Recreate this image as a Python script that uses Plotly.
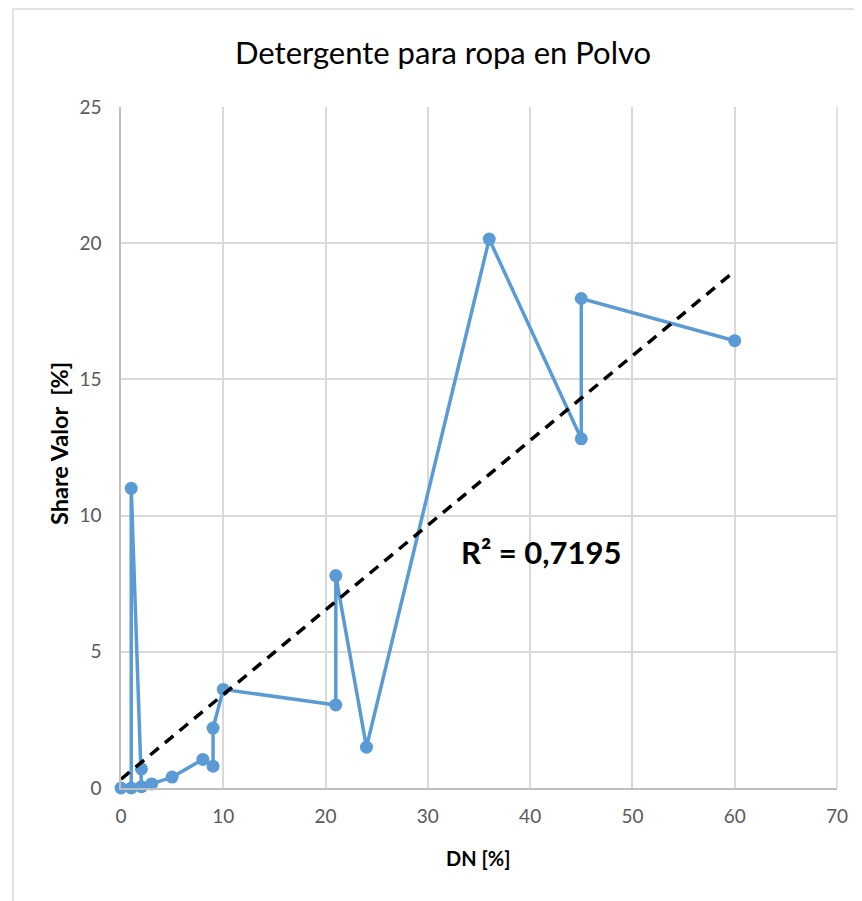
import numpy as np
import plotly.graph_objects as go

# Data (in line order)
dn = [0, 1, 1, 2, 2, 3, 5, 8, 9, 9, 10, 21, 21, 24, 36, 45, 45, 60]
share = [0, 0, 11.0, 0.7, 0.05, 0.15, 0.4, 1.05, 0.8, 2.2, 3.62, 3.05, 7.8, 1.5, 20.15, 12.82, 17.97, 16.42]

title_text = "Detergente para ropa en Polvo"
x_title = "DN [%]"
y_title = "Share Valor  [%]"
r2_text = "R² = 0,7195"

x_ticks = [0, 10, 20, 30, 40, 50, 60, 70]
y_ticks = [0, 5, 10, 15, 20, 25]

# linear trendline computed from data
slope, intercept = np.polyfit(dn, share, 1)
tx = np.array([min(dn), max(dn)])
ty = slope * tx + intercept

FONT = "Lato"
fig = go.Figure()
fig.add_trace(go.Scatter(
    x=dn, y=share, mode="lines+markers",
    line=dict(color="#5B9BD5", width=3.5),
    marker=dict(color="#5B9BD5", size=13),
    showlegend=False, hoverinfo="skip", cliponaxis=False,
))
fig.add_trace(go.Scatter(
    x=tx, y=ty, mode="lines",
    line=dict(color="black", width=3.5, dash="11px,8px"),
    showlegend=False, hoverinfo="skip",
))

OFF = 8  # page body offset
W, H = 862, 901
# target screen positions of plot area
SL, SR, ST, SB = 121, 837, 107, 788
L, T = SL - OFF, ST - OFF
R, B = W - (SR - OFF), H - (SB - OFF)
pw, ph = W - L - R, H - T - B

def px_x(p):
    return (p - OFF - L) / pw

def px_y(p):
    return (H - B - (p - OFF)) / ph

fig.update_layout(
    width=W, height=H,
    margin=dict(l=L, r=R, t=T, b=B),
    paper_bgcolor="white", plot_bgcolor="white",
    font=dict(family=FONT, color="#595959", size=19),
    xaxis=dict(
        range=[0, 70], tickvals=x_ticks, showgrid=True, gridcolor="#d9d9d9", gridwidth=1.5,
        showline=True, linecolor="#bfbfbf", linewidth=1.5, zeroline=False,
        ticks="", tickfont=dict(size=19, color="#595959"), ticklabelstandoff=10,
    ),
    yaxis=dict(
        range=[0, 25], tickvals=y_ticks, showgrid=True, gridcolor="#d9d9d9", gridwidth=1.5,
        showline=True, linecolor="#bfbfbf", linewidth=1.5, zeroline=False,
        ticks="", tickfont=dict(size=19, color="#595959"), ticklabelstandoff=14,
    ),
    shapes=[
        dict(type="line", xref="paper", yref="paper", x0=1, x1=1, y0=0, y1=1,
             line=dict(color="#d9d9d9", width=1.5)),
        dict(type="rect", xref="paper", yref="paper",
             x0=px_x(13), y0=px_y(960), x1=px_x(920), y1=px_y(9),
             line=dict(color="#d9d9d9", width=1.5), fillcolor="rgba(0,0,0,0)"),
    ],
    annotations=[
        dict(text=title_text, xref="paper", yref="paper", x=px_x(443), y=px_y(52),
             showarrow=False, font=dict(family=FONT, size=31, color="black"),
             xanchor="center", yanchor="middle"),
        dict(text="<b>" + x_title + "</b>", xref="paper", yref="paper", x=px_x(478), y=px_y(858),
             showarrow=False, font=dict(family=FONT, size=20, color="black"),
             xanchor="center", yanchor="middle"),
        dict(text="<b>" + y_title + "</b>", xref="paper", yref="paper", x=px_x(59), y=px_y(443),
             showarrow=False, textangle=-90, font=dict(family=FONT, size=23.5, color="black"),
             xanchor="center", yanchor="middle"),
        dict(text="<b>" + r2_text + "</b>", xref="paper", yref="paper", x=px_x(541), y=px_y(552),
             showarrow=False, font=dict(family=FONT, size=31, color="black"),
             xanchor="center", yanchor="middle"),
    ],
)

fig.write_html("out.html")
